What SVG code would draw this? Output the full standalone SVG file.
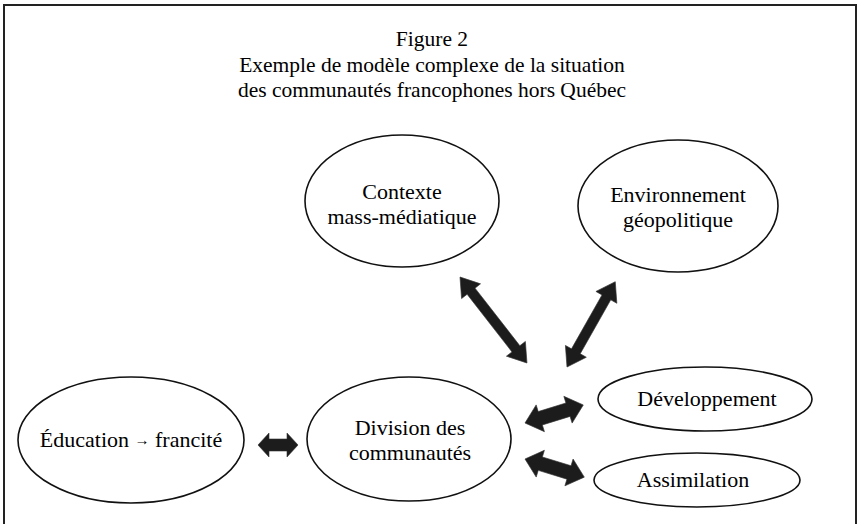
<svg xmlns="http://www.w3.org/2000/svg" width="859" height="524" viewBox="0 0 859 524">
<style>
.frame{fill:none;stroke:#222;stroke-width:2}
.node ellipse{fill:#fff;stroke:#111;stroke-width:1.6}
text{font-family:"Liberation Serif","Times New Roman",serif;fill:#000;text-anchor:middle}
.title{font-size:21.5px}
.lbl{font-size:22px}
.arrow{fill:#1c1c1c;stroke:#333;stroke-width:0.6}
</style>
<rect width="859" height="524" fill="#fff"/>
<path class="frame" d="M4 524 V5 H856 V524"/>
<g id="title">
<text class="title" x="432" y="46">Figure 2</text>
<text class="title" x="432" y="72">Exemple de modèle complexe de la situation</text>
<text class="title" x="432" y="97">des communautés francophones hors Québec</text>
</g>
<g id="contexte" class="node">
<ellipse cx="402" cy="201" rx="97" ry="66"/>
<text class="lbl" x="402" y="199">Contexte</text>
<text class="lbl" x="402" y="224">mass-médiatique</text>
</g>
<g id="environnement" class="node">
<ellipse cx="678" cy="206" rx="100" ry="66"/>
<text class="lbl" x="678" y="202">Environnement</text>
<text class="lbl" x="678" y="227">géopolitique</text>
</g>
<g id="education" class="node">
<ellipse cx="131" cy="440" rx="113" ry="63"/>
<text class="lbl" x="131" y="447">Éducation <tspan font-size="15" dy="-2">→</tspan><tspan dy="2"> francité</tspan></text>
</g>
<g id="division" class="node">
<ellipse cx="409" cy="439" rx="102" ry="62"/>
<text class="lbl" x="410" y="435">Division des</text>
<text class="lbl" x="410" y="460">communautés</text>
</g>
<g id="developpement" class="node">
<ellipse cx="705" cy="399" rx="107" ry="32"/>
<text class="lbl" x="707" y="406">Développement</text>
</g>
<g id="assimilation" class="node">
<ellipse cx="697" cy="480" rx="103" ry="27"/>
<text class="lbl" x="693" y="487">Assimilation</text>
</g>
<g id="connectors">
<!-- Contexte <-> Division -->
<polygon class="arrow" transform="translate(460,277) rotate(52.1)" points="0,0 18,-12 18,-5 91,-5 91,-12 109,0 91,12 91,5 18,5 18,12"/>
<!-- Environnement <-> Division -->
<polygon class="arrow" transform="translate(567,367) rotate(-60.5)" points="0,0 18,-12 18,-5 80,-5 80,-12 98,0 80,12 80,5 18,5 18,12"/>
<!-- Education <-> Division -->
<polygon class="arrow" transform="translate(258,445)" points="0,0 11,-12 11,-6 29,-6 29,-12 40,0 29,12 29,6 11,6 11,12"/>
<!-- Division <-> Developpement -->
<polygon class="arrow" transform="translate(525,423) rotate(-17.2)" points="0,0 16,-14 16,-7 45,-7 45,-14 61,0 45,14 45,7 16,7 16,14"/>
<!-- Division <-> Assimilation -->
<polygon class="arrow" transform="translate(525,459) rotate(17)" points="0,0 16,-14 16,-7 46,-7 46,-14 62,0 46,14 46,7 16,7 16,14"/>
</g>
</svg>
